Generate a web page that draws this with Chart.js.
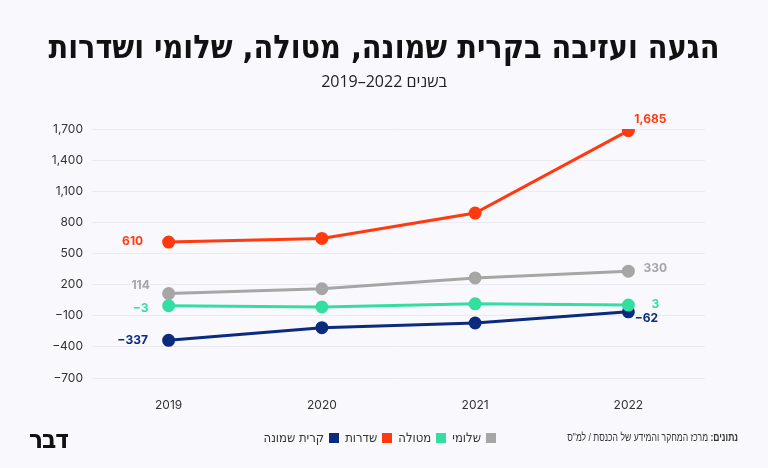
<!DOCTYPE html>
<html lang="he">
<head>
<meta charset="utf-8">
<script src="https://cdn.jsdelivr.net/npm/chart.js@4"></script>
<style>
  html, body { margin: 0; padding: 0; background: #f9f8fd; }
  #wrap { position: relative; width: 768px; height: 468px; overflow: hidden; background: #f9f8fd; }
  #c { position: absolute; left: 0; top: 0; }
  .t { position: absolute; white-space: nowrap; color: #111; }
  #title { top: 28px; left: 0; width: 768px; text-align: center; font: bold 32px "DejaVu Sans Condensed", "DejaVu Sans", sans-serif; direction: rtl; }
  #sub { top: 70px; left: 0; width: 768px; text-align: center; font: 16px "Open Sans", "DejaVu Sans", sans-serif; direction: rtl; color: #222; }
  #legend { top: 430px; right: 266px; direction: rtl; font: 13px "DejaVu Sans Condensed", "DejaVu Sans", sans-serif; color: #333; }
  #legend span.sq { display: inline-block; width: 10px; height: 10px; margin-left: 5px; margin-right: 6px; vertical-align: -1px; }
  #logo { top: 424px; left: 29px; font: bold 26px "DejaVu Sans Condensed", "DejaVu Sans", serif; direction: rtl; color: #111; letter-spacing: -1px; }
</style>
</head>
<body>
<div id="wrap">
  <canvas id="c" width="768" height="468"></canvas>
  <div class="t" id="title">הגעה ועזיבה בקרית שמונה, מטולה, שלומי ושדרות</div>
  <div class="t" id="sub">בשנים <bdi dir="ltr">2019–2022</bdi></div>
  <div class="t" id="legend"></div>
  <div class="t" id="logo">דבר</div>
</div>
<script>
const years = ['2019', '2020', '2021', '2022'];
const seriesNames = ['שלומי', 'מטולה', 'שדרות', 'קרית שמונה'];
const shlomi = [114, 160, 265, 330];
const metula = [-3, -15, 15, 3];
const sderot = [610, 645, 890, 1685];
const kiryatShmona = [-337, -215, -170, -62];
const yTicks = [-700, -400, -100, 200, 500, 800, 1100, 1400, 1700];
const sourceLabel = 'נתונים:';
const sourceText = 'מרכז המחקר והמידע של הכנסת / למ"ס';

const colors = ['#a6a6a6', '#33dfa0', '#ff3a0f', '#0b2b7e'];
const values = [shlomi, metula, sderot, kiryatShmona];

// legend
const legendEl = document.getElementById('legend');
seriesNames.forEach((n, i) => {
	legendEl.innerHTML += '<span class="sq" style="background:' + colors[i] + '"></span>' + n;
});

// labels at first and last point: [dx, dy] per series
const labelOffsets = {
	first: [[-28, -8], [-28, 3], [-36, -1], [-36, 0]],
	last: [[27, -3], [27, -1], [22, -11], [18, 7]]
};

const endLabels = {
	id: 'endLabels',
	afterDatasetsDraw(chart) {
		const ctx = chart.ctx;
		ctx.save();
		ctx.font = 'bold 12px Inter, "Open Sans", sans-serif';
		ctx.textAlign = 'center';
		ctx.textBaseline = 'middle';
		chart.data.datasets.forEach((ds, i) => {
			const pts = chart.getDatasetMeta(i).data;
			const first = pts[0], last = pts[pts.length - 1];
			ctx.fillStyle = ds.borderColor;
			const f = labelOffsets.first[i], l = labelOffsets.last[i];
			ctx.fillText(ds.data[0].toLocaleString('en-US').replace('-', '−'), first.x + f[0], first.y + f[1]);
			ctx.fillText(ds.data[ds.data.length - 1].toLocaleString('en-US').replace('-', '−'), last.x + l[0], last.y + l[1]);
		});
		ctx.restore();
	}
};

// source line at the bottom right, squeezed a little
const sourceLine = {
	id: 'sourceLine',
	afterDraw(chart) {
		const ctx = chart.ctx;
		ctx.save();
		ctx.translate(738, 438);
		ctx.scale(0.78, 1);
		ctx.direction = 'rtl';
		ctx.textAlign = 'right';
		ctx.textBaseline = 'middle';
		ctx.fillStyle = '#333';
		ctx.font = 'bold 11px "Liberation Sans", "DejaVu Sans", sans-serif';
		ctx.fillText(sourceLabel, 0, 0);
		const w = ctx.measureText(sourceLabel).width;
		ctx.font = '11px "Liberation Sans", "DejaVu Sans", sans-serif';
		ctx.fillText(sourceText, -w - 3, 0);
		ctx.restore();
	}
};

new Chart('c', {
	type: 'line',
	data: {
		labels: years,
		datasets: values.map((v, i) => ({
			label: seriesNames[i],
			data: v,
			borderColor: colors[i],
			backgroundColor: colors[i],
			borderWidth: 3,
			pointRadius: 5,
			pointHoverRadius: 5,
			fill: false,
			tension: 0
		}))
	},
	options: {
		responsive: false,
		animation: false,
		layout: { padding: { left: 0, right: 63, top: 129, bottom: 0 } },
		plugins: {
			legend: { display: false },
			tooltip: { enabled: false }
		},
		scales: {
			x: {
				offset: true,
				grid: { display: false },
				border: { display: false },
				ticks: { color: '#333', padding: 12, font: { size: 12, family: 'Inter, "Open Sans", sans-serif' } },
				afterFit: (s) => { s.height = 90; }
			},
			y: {
				min: -700,
				max: 1700,
				afterBuildTicks: (s) => { s.ticks = yTicks.map(v => ({ value: v })); },
				grid: { color: '#ebeaf2', lineWidth: 1, drawTicks: false },
				border: { display: false },
				ticks: {
					color: '#333',
					padding: 9,
					font: { size: 12, family: 'Inter, "Open Sans", sans-serif' },
					callback: (v) => v.toLocaleString('en-US').replace('-', '−')
				},
				afterFit: (s) => { s.width = 92; }
			}
		}
	},
	plugins: [endLabels, sourceLine]
});
</script>
</body>
</html>
